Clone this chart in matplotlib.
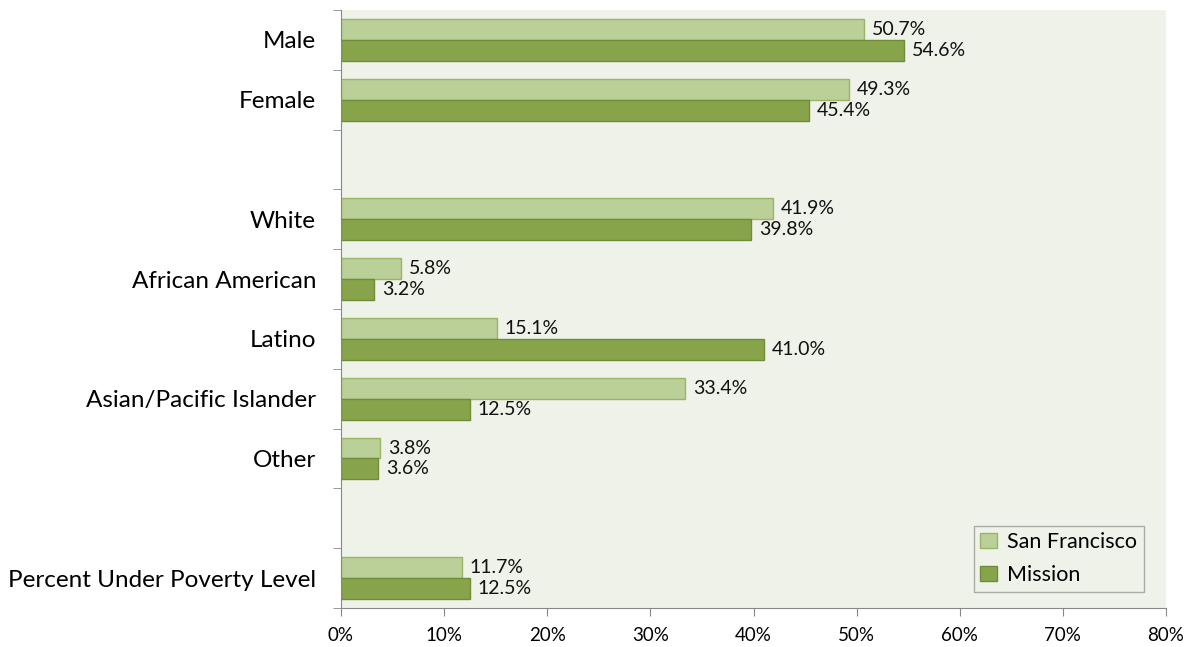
import matplotlib
matplotlib.use("Agg")
import matplotlib.pyplot as plt
import numpy as np
from matplotlib.patches import Patch

categories = ["Male", "Female", "", "White", "African American", "Latino",
              "Asian/Pacific Islander", "Other", "", "Percent Under Poverty Level"]
sf_values = [50.7, 49.3, None, 41.9, 5.8, 15.1, 33.4, 3.8, None, 11.7]
mission_values = [54.6, 45.4, None, 39.8, 3.2, 41.0, 12.5, 3.6, None, 12.5]
series_names = ["San Francisco", "Mission"]
xticks = [0, 10, 20, 30, 40, 50, 60, 70, 80]

plt.rcParams['font.family'] = ['Lato', 'DejaVu Sans']

fig = plt.figure(figsize=(11.91, 6.47), dpi=100)
ax = fig.add_axes([341/1191, 1-608/647, (1166-341)/1191, 598/647])
ax.set_facecolor("#EFF2E9")

sf_color, sf_edge = "#BBCF98", "#9AB468"
mi_color, mi_edge = "#88A44B", "#6F8C38"
h = 0.35
for i, (s, m) in enumerate(zip(sf_values, mission_values)):
    if s is None:
        continue
    ax.barh(i - h/2, s, height=h, color=sf_color, edgecolor=sf_edge, linewidth=1)
    ax.barh(i + h/2, m, height=h, color=mi_color, edgecolor=mi_edge, linewidth=1)
    ax.text(s + 0.75, i - h/2, f"{s:.1f}%", va="center", ha="left", fontsize=14, color="#111111")
    ax.text(m + 0.75, i + h/2, f"{m:.1f}%", va="center", ha="left", fontsize=14, color="#111111")

ax.set_ylim(len(categories) - 0.5, -0.5)
ax.set_xlim(0, 80)
ax.set_yticks(range(len(categories)))
ax.set_yticklabels(categories, fontsize=17.5)
ax.tick_params(axis="y", length=0, pad=18)
ax.set_yticks(np.arange(-0.5, len(categories), 1.0), minor=True)
ax.tick_params(axis="y", which="minor", length=6, color="#888888", direction="out")
ax.set_xticks(xticks)
ax.set_xticklabels([f"{t}%" for t in xticks], fontsize=13.5)
ax.tick_params(axis="x", length=6, color="#888888", pad=8)
for sp in ["top", "right"]:
    ax.spines[sp].set_visible(False)
for sp in ["left", "bottom"]:
    ax.spines[sp].set_color("#888888")

handles = [Patch(facecolor=sf_color, edgecolor=sf_edge, label=series_names[0]),
           Patch(facecolor=mi_color, edgecolor=mi_edge, label=series_names[1])]
leg = ax.legend(handles=handles, loc="lower right", bbox_to_anchor=(0.973, 0.027),
                borderaxespad=0, fontsize=15.5, frameon=True, fancybox=False,
                edgecolor="#999999", facecolor="#EFF2E9", handlelength=0.75,
                handleheight=0.7, handletextpad=0.5, labelspacing=0.62, borderpad=0.3)
leg.get_frame().set_linewidth(1)

fig.savefig("out.png", dpi=100, facecolor="white")
